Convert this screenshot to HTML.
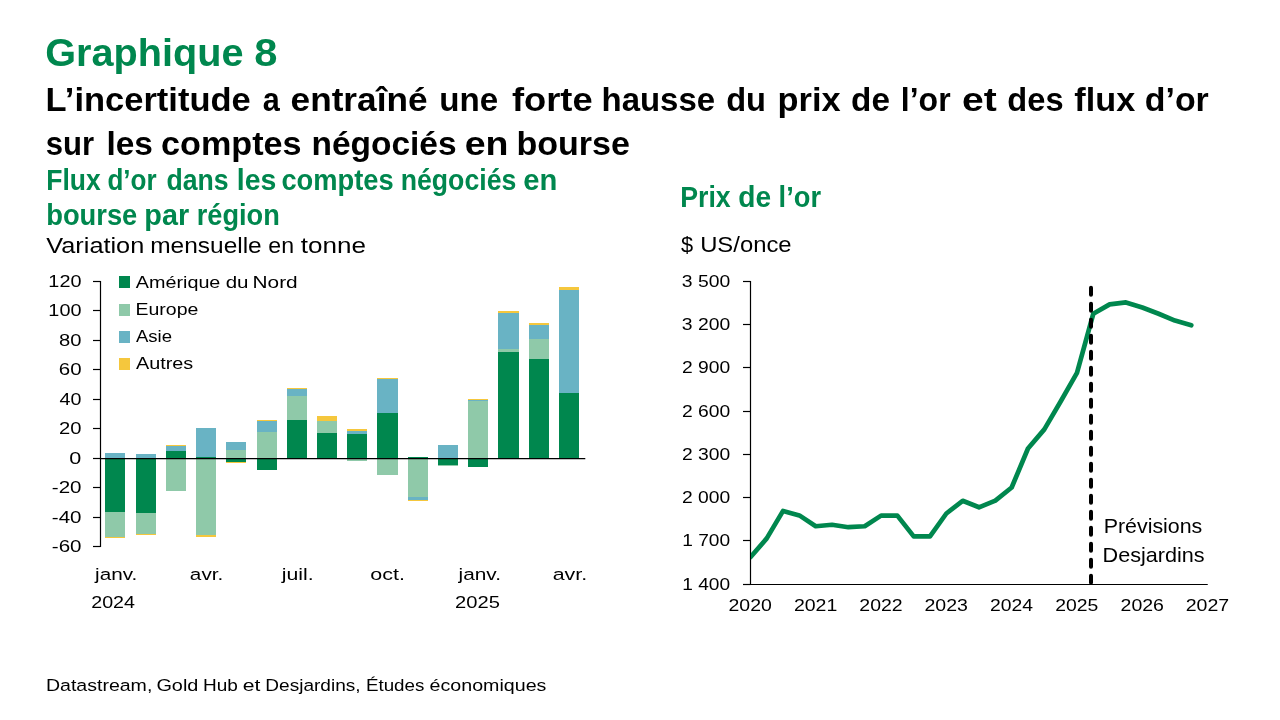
<!DOCTYPE html>
<html lang="fr">
<head>
<meta charset="utf-8">
<title>Graphique 8</title>
<style>
html,body{margin:0;padding:0;background:#fff;}
body{width:1280px;height:720px;overflow:hidden;}
svg{display:block;}
text{font-family:"Liberation Sans",sans-serif;}
</style>
</head>
<body>
<svg width="1280" height="720" viewBox="0 0 1280 720">
<rect width="1280" height="720" fill="#fff"/>
<g id="bars" shape-rendering="geometricPrecision">
<rect x="105.00" y="453.00" width="20.00" height="5.50" fill="#69B3C4"/>
<rect x="105.00" y="458.50" width="20.00" height="53.50" fill="#00874E"/>
<rect x="105.00" y="512.00" width="20.00" height="25.00" fill="#8FC9A9"/>
<rect x="105.00" y="537.00" width="20.00" height="1.00" fill="#F5C73D"/>
<rect x="136.00" y="454.00" width="20.00" height="4.50" fill="#69B3C4"/>
<rect x="136.00" y="458.50" width="20.00" height="54.50" fill="#00874E"/>
<rect x="136.00" y="513.00" width="20.00" height="21.00" fill="#8FC9A9"/>
<rect x="136.00" y="534.00" width="20.00" height="1.00" fill="#F5C73D"/>
<rect x="166.00" y="445.00" width="20.00" height="1.00" fill="#F5C73D"/>
<rect x="166.00" y="446.00" width="20.00" height="5.00" fill="#69B3C4"/>
<rect x="166.00" y="451.00" width="20.00" height="7.50" fill="#00874E"/>
<rect x="166.00" y="458.50" width="20.00" height="32.50" fill="#8FC9A9"/>
<rect x="196.00" y="428.00" width="20.00" height="29.00" fill="#69B3C4"/>
<rect x="196.00" y="457.00" width="20.00" height="1.50" fill="#00874E"/>
<rect x="196.00" y="458.50" width="20.00" height="76.50" fill="#8FC9A9"/>
<rect x="196.00" y="535.00" width="20.00" height="2.00" fill="#F5C73D"/>
<rect x="226.00" y="442.00" width="20.00" height="8.00" fill="#69B3C4"/>
<rect x="226.00" y="450.00" width="20.00" height="8.50" fill="#8FC9A9"/>
<rect x="226.00" y="458.50" width="20.00" height="3.50" fill="#00874E"/>
<rect x="226.00" y="462.00" width="20.00" height="1.00" fill="#F5C73D"/>
<rect x="257.00" y="420.00" width="20.00" height="1.00" fill="#F5C73D"/>
<rect x="257.00" y="421.00" width="20.00" height="11.00" fill="#69B3C4"/>
<rect x="257.00" y="432.00" width="20.00" height="26.50" fill="#8FC9A9"/>
<rect x="257.00" y="458.50" width="20.00" height="11.50" fill="#00874E"/>
<rect x="287.00" y="388.00" width="20.00" height="1.00" fill="#F5C73D"/>
<rect x="287.00" y="389.00" width="20.00" height="7.00" fill="#69B3C4"/>
<rect x="287.00" y="396.00" width="20.00" height="24.00" fill="#8FC9A9"/>
<rect x="287.00" y="420.00" width="20.00" height="38.50" fill="#00874E"/>
<rect x="317.00" y="416.00" width="20.00" height="5.00" fill="#F5C73D"/>
<rect x="317.00" y="421.00" width="20.00" height="12.00" fill="#8FC9A9"/>
<rect x="317.00" y="433.00" width="20.00" height="25.50" fill="#00874E"/>
<rect x="347.00" y="429.00" width="20.00" height="2.00" fill="#F5C73D"/>
<rect x="347.00" y="431.00" width="20.00" height="3.00" fill="#69B3C4"/>
<rect x="347.00" y="434.00" width="20.00" height="24.50" fill="#00874E"/>
<rect x="347.00" y="458.50" width="20.00" height="2.50" fill="#8FC9A9"/>
<rect x="377.00" y="378.00" width="21.00" height="1.00" fill="#F5C73D"/>
<rect x="377.00" y="379.00" width="21.00" height="34.00" fill="#69B3C4"/>
<rect x="377.00" y="413.00" width="21.00" height="45.50" fill="#00874E"/>
<rect x="377.00" y="458.50" width="21.00" height="16.50" fill="#8FC9A9"/>
<rect x="408.00" y="457.00" width="20.00" height="1.50" fill="#00874E"/>
<rect x="408.00" y="458.50" width="20.00" height="38.50" fill="#8FC9A9"/>
<rect x="408.00" y="497.00" width="20.00" height="3.00" fill="#69B3C4"/>
<rect x="408.00" y="500.00" width="20.00" height="1.00" fill="#F5C73D"/>
<rect x="438.00" y="445.00" width="20.00" height="13.50" fill="#69B3C4"/>
<rect x="438.00" y="458.50" width="20.00" height="6.50" fill="#00874E"/>
<rect x="438.00" y="465.00" width="20.00" height="1.00" fill="#8FC9A9"/>
<rect x="468.00" y="399.00" width="20.00" height="1.00" fill="#F5C73D"/>
<rect x="468.00" y="400.00" width="20.00" height="1.00" fill="#69B3C4"/>
<rect x="468.00" y="401.00" width="20.00" height="57.50" fill="#8FC9A9"/>
<rect x="468.00" y="458.50" width="20.00" height="8.50" fill="#00874E"/>
<rect x="498.00" y="311.00" width="21.00" height="2.00" fill="#F5C73D"/>
<rect x="498.00" y="313.00" width="21.00" height="36.00" fill="#69B3C4"/>
<rect x="498.00" y="349.00" width="21.00" height="3.00" fill="#8FC9A9"/>
<rect x="498.00" y="352.00" width="21.00" height="106.50" fill="#00874E"/>
<rect x="529.00" y="323.00" width="20.00" height="2.00" fill="#F5C73D"/>
<rect x="529.00" y="325.00" width="20.00" height="14.00" fill="#69B3C4"/>
<rect x="529.00" y="339.00" width="20.00" height="20.00" fill="#8FC9A9"/>
<rect x="529.00" y="359.00" width="20.00" height="99.50" fill="#00874E"/>
<rect x="559.00" y="287.00" width="20.00" height="3.00" fill="#F5C73D"/>
<rect x="559.00" y="290.00" width="20.00" height="103.00" fill="#69B3C4"/>
<rect x="559.00" y="393.00" width="20.00" height="65.50" fill="#00874E"/>
</g>
<g id="laxis" stroke="#000" stroke-width="1.2" fill="none">
<path d="M100.5 281 V547"/>
<path d="M93 546.5 H100.5"/>
<path d="M93 517.5 H100.5"/>
<path d="M93 487.5 H100.5"/>
<path d="M93 458.5 H100.5"/>
<path d="M93 428.5 H100.5"/>
<path d="M93 399.5 H100.5"/>
<path d="M93 369.5 H100.5"/>
<path d="M93 340.5 H100.5"/>
<path d="M93 310.5 H100.5"/>
<path d="M93 281.5 H100.5"/>
<path d="M100.5 458.5 H585.3" stroke-width="1.25"/>
</g>
<rect x="119" y="276" width="11" height="12" fill="#00874E"/>
<rect x="119" y="304" width="11" height="12" fill="#8FC9A9"/>
<rect x="119" y="331" width="11" height="12" fill="#69B3C4"/>
<rect x="119" y="358" width="11" height="12" fill="#F5C73D"/>
<g id="raxis" stroke="#000" stroke-width="1.2" fill="none">
<path d="M750.5 281 V585"/>
<path d="M743 584.5 H750.5"/>
<path d="M743 540.5 H750.5"/>
<path d="M743 497.5 H750.5"/>
<path d="M743 454.5 H750.5"/>
<path d="M743 411.5 H750.5"/>
<path d="M743 367.5 H750.5"/>
<path d="M743 324.5 H750.5"/>
<path d="M743 281.5 H750.5"/>
<path d="M750.5 584.5 H1207.75"/>
</g>
<path d="M750.40 557.20 L766.73 538.40 L783.06 510.90 L799.39 515.40 L815.71 526.25 L832.04 524.75 L848.37 527.20 L864.70 526.25 L881.03 515.60 L897.36 515.60 L913.69 536.40 L930.01 536.40 L946.34 513.50 L962.67 500.80 L979.00 507.30 L995.33 500.60 L1011.66 487.50 L1027.99 448.50 L1044.31 429.40 L1060.64 401.50 L1076.97 372.80 L1093.30 313.75 L1109.63 304.40 L1125.96 302.40 L1142.29 307.50 L1158.61 313.75 L1174.94 320.60 L1191.27 325.30" fill="none" stroke="#00874E" stroke-width="4.7" stroke-linejoin="round" stroke-linecap="round" clip-path="url(#cp)"/>
<clipPath id="cp"><rect x="750.9" y="270" width="460" height="320"/></clipPath>
<path d="M1091 287.7 V584" fill="none" stroke="#000" stroke-width="4" stroke-linecap="round" stroke-dasharray="7 9" clip-path="url(#cp2)"/>
<clipPath id="cp2"><rect x="1080" y="280" width="22" height="304.6"/></clipPath>
<text id="t_h0" y="66.25" font-size="38.80" font-weight="bold" fill="#00874E"><tspan id="h0_0" x="45.28" textLength="198.25" lengthAdjust="spacingAndGlyphs">Graphique</tspan> <tspan id="h0_1" x="254.27" textLength="23.21" lengthAdjust="spacingAndGlyphs">8</tspan></text>
<text id="t_h1" y="111.00" font-size="33.80" font-weight="bold" fill="#000000"><tspan id="h1_0" x="45.64" textLength="205.12" lengthAdjust="spacingAndGlyphs">L’incertitude</tspan> <tspan id="h1_1" x="262.77" textLength="17.02" lengthAdjust="spacingAndGlyphs">a</tspan> <tspan id="h1_2" x="290.58" textLength="136.91" lengthAdjust="spacingAndGlyphs">entraîné</tspan> <tspan id="h1_3" x="439.28" textLength="58.93" lengthAdjust="spacingAndGlyphs">une</tspan> <tspan id="h1_4" x="511.94" textLength="80.71" lengthAdjust="spacingAndGlyphs">forte</tspan> <tspan id="h1_5" x="601.50" textLength="113.57" lengthAdjust="spacingAndGlyphs">hausse</tspan> <tspan id="h1_6" x="726.19" textLength="39.83" lengthAdjust="spacingAndGlyphs">du</tspan> <tspan id="h1_7" x="777.60" textLength="63.08" lengthAdjust="spacingAndGlyphs">prix</tspan> <tspan id="h1_8" x="851.07" textLength="38.85" lengthAdjust="spacingAndGlyphs">de</tspan> <tspan id="h1_9" x="900.87" textLength="49.70" lengthAdjust="spacingAndGlyphs">l’or</tspan> <tspan id="h1_10" x="962.10" textLength="34.74" lengthAdjust="spacingAndGlyphs">et</tspan> <tspan id="h1_11" x="1007.35" textLength="56.18" lengthAdjust="spacingAndGlyphs">des</tspan> <tspan id="h1_12" x="1074.33" textLength="60.84" lengthAdjust="spacingAndGlyphs">flux</tspan> <tspan id="h1_13" x="1144.82" textLength="64.00" lengthAdjust="spacingAndGlyphs">d’or</tspan></text>
<text id="t_h2" y="154.50" font-size="33.80" font-weight="bold" fill="#000000"><tspan id="h2_0" x="45.81" textLength="48.34" lengthAdjust="spacingAndGlyphs">sur</tspan> <tspan id="h2_1" x="106.42" textLength="46.47" lengthAdjust="spacingAndGlyphs">les</tspan> <tspan id="h2_2" x="161.12" textLength="140.47" lengthAdjust="spacingAndGlyphs">comptes</tspan> <tspan id="h2_3" x="311.48" textLength="145.05" lengthAdjust="spacingAndGlyphs">négociés</tspan> <tspan id="h2_4" x="464.70" textLength="43.80" lengthAdjust="spacingAndGlyphs">en</tspan> <tspan id="h2_5" x="516.49" textLength="113.50" lengthAdjust="spacingAndGlyphs">bourse</tspan></text>
<text id="t_s1" y="190.00" font-size="29.00" font-weight="bold" fill="#00874E"><tspan id="s1_0" x="46.29" textLength="54.46" lengthAdjust="spacingAndGlyphs">Flux</tspan> <tspan id="s1_1" x="107.45" textLength="49.18" lengthAdjust="spacingAndGlyphs">d’or</tspan> <tspan id="s1_2" x="166.40" textLength="62.13" lengthAdjust="spacingAndGlyphs">dans</tspan> <tspan id="s1_3" x="236.82" textLength="39.53" lengthAdjust="spacingAndGlyphs">les</tspan> <tspan id="s1_4" x="281.41" textLength="112.20" lengthAdjust="spacingAndGlyphs">comptes</tspan> <tspan id="s1_5" x="400.72" textLength="115.58" lengthAdjust="spacingAndGlyphs">négociés</tspan> <tspan id="s1_6" x="523.39" textLength="34.09" lengthAdjust="spacingAndGlyphs">en</tspan></text>
<text id="t_s2" y="225.00" font-size="29.00" font-weight="bold" fill="#00874E"><tspan id="s2_0" x="46.19" textLength="91.09" lengthAdjust="spacingAndGlyphs">bourse</tspan> <tspan id="s2_1" x="144.32" textLength="44.78" lengthAdjust="spacingAndGlyphs">par</tspan> <tspan id="s2_2" x="196.80" textLength="83.01" lengthAdjust="spacingAndGlyphs">région</tspan></text>
<text id="t_u1" y="252.60" font-size="22.90" font-weight="normal" fill="#000000"><tspan id="u1_0" x="46.28" textLength="98.01" lengthAdjust="spacingAndGlyphs">Variation</tspan> <tspan id="u1_1" x="150.20" textLength="111.55" lengthAdjust="spacingAndGlyphs">mensuelle</tspan> <tspan id="u1_2" x="268.32" textLength="25.72" lengthAdjust="spacingAndGlyphs">en</tspan> <tspan id="u1_3" x="300.80" textLength="65.20" lengthAdjust="spacingAndGlyphs">tonne</tspan></text>
<text id="t_s3" y="207.25" font-size="29.00" font-weight="bold" fill="#00874E"><tspan id="s3_0" x="680.22" textLength="50.53" lengthAdjust="spacingAndGlyphs">Prix</tspan> <tspan id="s3_1" x="738.36" textLength="32.83" lengthAdjust="spacingAndGlyphs">de</tspan> <tspan id="s3_2" x="778.61" textLength="42.38" lengthAdjust="spacingAndGlyphs">l’or</tspan></text>
<text id="t_u2" y="251.90" font-size="22.90" font-weight="normal" fill="#000000"><tspan id="u2_0" x="680.92" textLength="12.12" lengthAdjust="spacingAndGlyphs">$</tspan> <tspan id="u2_1" x="700.15" textLength="91.44" lengthAdjust="spacingAndGlyphs">US/once</tspan></text>
<text id="t_ft" y="690.75" font-size="16.70" font-weight="normal" fill="#000000"><tspan id="ft_0" x="45.92" textLength="106.43" lengthAdjust="spacingAndGlyphs">Datastream,</tspan> <tspan id="ft_1" x="156.40" textLength="42.01" lengthAdjust="spacingAndGlyphs">Gold</tspan> <tspan id="ft_2" x="203.00" textLength="34.91" lengthAdjust="spacingAndGlyphs">Hub</tspan> <tspan id="ft_3" x="242.78" textLength="17.63" lengthAdjust="spacingAndGlyphs">et</tspan> <tspan id="ft_4" x="265.33" textLength="95.27" lengthAdjust="spacingAndGlyphs">Desjardins,</tspan> <tspan id="ft_5" x="365.95" textLength="58.43" lengthAdjust="spacingAndGlyphs">Études</tspan> <tspan id="ft_6" x="429.61" textLength="116.77" lengthAdjust="spacingAndGlyphs">économiques</tspan></text>
<text id="t_ly180" y="286.90" font-size="17.30" font-weight="normal" fill="#000000"><tspan id="ly180" x="48.36" textLength="33.11" lengthAdjust="spacingAndGlyphs">120</tspan></text>
<text id="t_ly160" y="315.90" font-size="17.30" font-weight="normal" fill="#000000"><tspan id="ly160" x="48.36" textLength="33.11" lengthAdjust="spacingAndGlyphs">100</tspan></text>
<text id="t_ly140" y="345.90" font-size="17.30" font-weight="normal" fill="#000000"><tspan id="ly140" x="59.00" textLength="22.44" lengthAdjust="spacingAndGlyphs">80</tspan></text>
<text id="t_ly120" y="374.90" font-size="17.30" font-weight="normal" fill="#000000"><tspan id="ly120" x="58.84" textLength="22.78" lengthAdjust="spacingAndGlyphs">60</tspan></text>
<text id="t_ly100" y="404.90" font-size="17.30" font-weight="normal" fill="#000000"><tspan id="ly100" x="59.57" textLength="21.90" lengthAdjust="spacingAndGlyphs">40</tspan></text>
<text id="t_ly80" y="433.90" font-size="17.30" font-weight="normal" fill="#000000"><tspan id="ly80" x="58.94" textLength="22.49" lengthAdjust="spacingAndGlyphs">20</tspan></text>
<text id="t_ly60" y="463.90" font-size="17.30" font-weight="normal" fill="#000000"><tspan id="ly60" x="69.39" textLength="12.05" lengthAdjust="spacingAndGlyphs">0</tspan></text>
<text id="t_ly40" y="492.90" font-size="17.30" font-weight="normal" fill="#000000"><tspan id="ly40" x="51.84" textLength="29.74" lengthAdjust="spacingAndGlyphs">-20</tspan></text>
<text id="t_ly20" y="522.90" font-size="17.30" font-weight="normal" fill="#000000"><tspan id="ly20" x="51.84" textLength="29.74" lengthAdjust="spacingAndGlyphs">-40</tspan></text>
<text id="t_ly0" y="551.90" font-size="17.30" font-weight="normal" fill="#000000"><tspan id="ly0" x="51.84" textLength="29.74" lengthAdjust="spacingAndGlyphs">-60</tspan></text>
<text id="t_lg0" y="287.50" font-size="16.80" font-weight="normal" fill="#000000"><tspan id="lg0_0" x="135.89" textLength="84.49" lengthAdjust="spacingAndGlyphs">Amérique</tspan> <tspan id="lg0_1" x="225.68" textLength="22.87" lengthAdjust="spacingAndGlyphs">du</tspan> <tspan id="lg0_2" x="252.56" textLength="45.11" lengthAdjust="spacingAndGlyphs">Nord</tspan></text>
<text id="t_lg1" y="315.00" font-size="16.80" font-weight="normal" fill="#000000"><tspan id="lg1" x="135.54" textLength="62.83" lengthAdjust="spacingAndGlyphs">Europe</tspan></text>
<text id="t_lg2" y="342.10" font-size="16.80" font-weight="normal" fill="#000000"><tspan id="lg2" x="135.91" textLength="36.09" lengthAdjust="spacingAndGlyphs">Asie</tspan></text>
<text id="t_lg3" y="369.40" font-size="16.80" font-weight="normal" fill="#000000"><tspan id="lg3" x="135.91" textLength="57.35" lengthAdjust="spacingAndGlyphs">Autres</tspan></text>
<text id="t_lx0" y="580.00" font-size="16.80" font-weight="normal" fill="#000000"><tspan id="lx0" x="95.10" textLength="42.21" lengthAdjust="spacingAndGlyphs">janv.</tspan></text>
<text id="t_lx1" y="580.00" font-size="16.80" font-weight="normal" fill="#000000"><tspan id="lx1" x="189.87" textLength="33.43" lengthAdjust="spacingAndGlyphs">avr.</tspan></text>
<text id="t_lx2" y="580.00" font-size="16.80" font-weight="normal" fill="#000000"><tspan id="lx2" x="281.69" textLength="31.96" lengthAdjust="spacingAndGlyphs">juil.</tspan></text>
<text id="t_lx3" y="580.00" font-size="16.80" font-weight="normal" fill="#000000"><tspan id="lx3" x="370.38" textLength="34.62" lengthAdjust="spacingAndGlyphs">oct.</tspan></text>
<text id="t_lx4" y="580.00" font-size="16.80" font-weight="normal" fill="#000000"><tspan id="lx4" x="458.57" textLength="42.37" lengthAdjust="spacingAndGlyphs">janv.</tspan></text>
<text id="t_lx5" y="580.00" font-size="16.80" font-weight="normal" fill="#000000"><tspan id="lx5" x="552.72" textLength="34.50" lengthAdjust="spacingAndGlyphs">avr.</tspan></text>
<text id="t_lx6" y="607.60" font-size="17.30" font-weight="normal" fill="#000000"><tspan id="lx6" x="91.28" textLength="43.73" lengthAdjust="spacingAndGlyphs">2024</tspan></text>
<text id="t_lx7" y="607.60" font-size="17.30" font-weight="normal" fill="#000000"><tspan id="lx7" x="455.03" textLength="44.85" lengthAdjust="spacingAndGlyphs">2025</tspan></text>
<text id="t_ry1400" y="589.90" font-size="17.30" font-weight="normal" fill="#000000"><tspan id="ry1400" x="682.27" textLength="47.85" lengthAdjust="spacingAndGlyphs">1 400</tspan></text>
<text id="t_ry1700" y="545.90" font-size="17.30" font-weight="normal" fill="#000000"><tspan id="ry1700" x="682.27" textLength="47.85" lengthAdjust="spacingAndGlyphs">1 700</tspan></text>
<text id="t_ry2000" y="502.90" font-size="17.30" font-weight="normal" fill="#000000"><tspan id="ry2000" x="681.94" textLength="48.24" lengthAdjust="spacingAndGlyphs">2 000</tspan></text>
<text id="t_ry2300" y="459.90" font-size="17.30" font-weight="normal" fill="#000000"><tspan id="ry2300" x="681.94" textLength="48.24" lengthAdjust="spacingAndGlyphs">2 300</tspan></text>
<text id="t_ry2600" y="416.90" font-size="17.30" font-weight="normal" fill="#000000"><tspan id="ry2600" x="681.94" textLength="48.24" lengthAdjust="spacingAndGlyphs">2 600</tspan></text>
<text id="t_ry2900" y="372.90" font-size="17.30" font-weight="normal" fill="#000000"><tspan id="ry2900" x="681.94" textLength="48.24" lengthAdjust="spacingAndGlyphs">2 900</tspan></text>
<text id="t_ry3200" y="329.90" font-size="17.30" font-weight="normal" fill="#000000"><tspan id="ry3200" x="681.79" textLength="48.38" lengthAdjust="spacingAndGlyphs">3 200</tspan></text>
<text id="t_ry3500" y="286.90" font-size="17.30" font-weight="normal" fill="#000000"><tspan id="ry3500" x="681.79" textLength="48.38" lengthAdjust="spacingAndGlyphs">3 500</tspan></text>
<text id="t_rx0" y="611.00" font-size="17.30" font-weight="normal" fill="#000000"><tspan id="rx0" x="728.56" textLength="43.26" lengthAdjust="spacingAndGlyphs">2020</tspan></text>
<text id="t_rx1" y="611.00" font-size="17.30" font-weight="normal" fill="#000000"><tspan id="rx1" x="793.94" textLength="43.38" lengthAdjust="spacingAndGlyphs">2021</tspan></text>
<text id="t_rx2" y="611.00" font-size="17.30" font-weight="normal" fill="#000000"><tspan id="rx2" x="859.37" textLength="43.35" lengthAdjust="spacingAndGlyphs">2022</tspan></text>
<text id="t_rx3" y="611.00" font-size="17.30" font-weight="normal" fill="#000000"><tspan id="rx3" x="924.52" textLength="43.40" lengthAdjust="spacingAndGlyphs">2023</tspan></text>
<text id="t_rx4" y="611.00" font-size="17.30" font-weight="normal" fill="#000000"><tspan id="rx4" x="989.96" textLength="43.01" lengthAdjust="spacingAndGlyphs">2024</tspan></text>
<text id="t_rx5" y="611.00" font-size="17.30" font-weight="normal" fill="#000000"><tspan id="rx5" x="1055.28" textLength="43.09" lengthAdjust="spacingAndGlyphs">2025</tspan></text>
<text id="t_rx6" y="611.00" font-size="17.30" font-weight="normal" fill="#000000"><tspan id="rx6" x="1120.57" textLength="43.38" lengthAdjust="spacingAndGlyphs">2026</tspan></text>
<text id="t_rx7" y="611.00" font-size="17.30" font-weight="normal" fill="#000000"><tspan id="rx7" x="1185.73" textLength="43.44" lengthAdjust="spacingAndGlyphs">2027</tspan></text>
<text id="t_pv0" y="532.75" font-size="20.40" font-weight="normal" fill="#000000"><tspan id="pv0" x="1103.68" textLength="98.63" lengthAdjust="spacingAndGlyphs">Prévisions</tspan></text>
<text id="t_pv1" y="561.60" font-size="20.40" font-weight="normal" fill="#000000"><tspan id="pv1" x="1102.55" textLength="102.04" lengthAdjust="spacingAndGlyphs">Desjardins</tspan></text>
</svg>
</body>
</html>
